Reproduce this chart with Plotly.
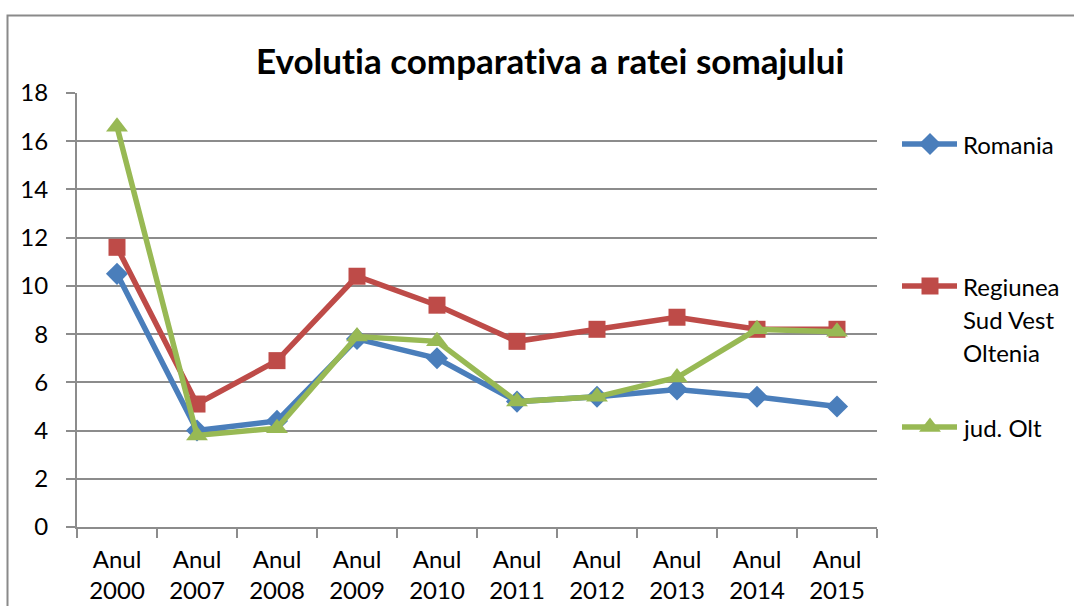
import plotly.graph_objects as go

# Unemployment rate (%) by year
years = ["Anul<br>2000", "Anul<br>2007", "Anul<br>2008", "Anul<br>2009", "Anul<br>2010",
         "Anul<br>2011", "Anul<br>2012", "Anul<br>2013", "Anul<br>2014", "Anul<br>2015"]
romania = [10.5, 4.0, 4.4, 7.8, 7.0, 5.2, 5.4, 5.7, 5.4, 5.0]
regiunea = [11.6, 5.1, 6.9, 10.4, 9.2, 7.7, 8.2, 8.7, 8.2, 8.2]
jud_olt = [16.6, 3.8, 4.1, 7.9, 7.7, 5.2, 5.4, 6.2, 8.2, 8.1]

y_ticks = [0, 2, 4, 6, 8, 10, 12, 14, 16, 18]

W, H = 1074, 606
FONT = "Lato"
FS = 24
GRID = "#8c8c8c"
ZWNJ = "\u200c"  # keeps Lato from joining "ti" into a ligature

series = [
    ("Romania", romania, "#4a7ebb", "diamond", 17),
    ("Regiunea<br>Sud Vest<br>Oltenia", regiunea, "#be4b48", "square", 17),
    ("jud. Olt", jud_olt, "#98b954", "triangle-up", 19),
]

fig = go.Figure()
for name, vals, color, sym, size in series:
    fig.add_trace(go.Scatter(
        x=years, y=vals, mode="lines+markers", name=name,
        line=dict(color=color, width=5.5),
        marker=dict(symbol=sym, size=size, color=color),
        showlegend=False, xaxis="x", yaxis="y",
    ))

# Legend drawn on an overlay axis measured in pixels
legend_rows = [(144, ["Romania"]), (286, ["Regiunea", "Sud Vest", "Oltenia"]), (427, ["jud. Olt"])]
for (name, vals, color, sym, size), (ly, lines) in zip(series, legend_rows):
    fig.add_trace(go.Scatter(
        x=[902, 930, 957], y=[ly, ly, ly], mode="lines",
        line=dict(color=color, width=5.5), showlegend=False,
        xaxis="x2", yaxis="y2", hoverinfo="skip",
    ))
    fig.add_trace(go.Scatter(
        x=[930], y=[ly], mode="markers",
        marker=dict(symbol=sym, size=size, color=color), showlegend=False,
        xaxis="x2", yaxis="y2", hoverinfo="skip",
    ))
    for i, txt in enumerate(lines):
        fig.add_annotation(
            x=961, y=ly + i * 33, xref="x2", yref="y2", text=txt,
            showarrow=False, xanchor="left", yanchor="middle",
            font=dict(family=FONT, size=FS, color="#000000"),
        )

left, right, top, bottom = 77, 877, 93, 527

fig.update_layout(
    width=W, height=H,
    margin=dict(l=0, r=0, t=0, b=0, pad=0, autoexpand=False),
    paper_bgcolor="white", plot_bgcolor="rgba(0,0,0,0)",
    font=dict(family=FONT, size=FS, color="#000000"),
    xaxis=dict(
        domain=[left / W, right / W], type="category",
        range=[-0.5, len(years) - 0.5],
        showgrid=False, tickson="boundaries",
        ticks="outside", ticklen=9, tickwidth=2, tickcolor=GRID,
        showline=True, linecolor=GRID, linewidth=2,
        tickfont=dict(family=FONT, size=FS), anchor="y",
        ticklabelstandoff=10, automargin=False,
    ),
    yaxis=dict(
        domain=[1 - bottom / H, 1 - top / H],
        range=[0, 18], tickvals=y_ticks,
        showgrid=True, gridcolor=GRID, gridwidth=2,
        ticks="outside", ticklen=9, tickwidth=2, tickcolor=GRID,
        showline=True, linecolor=GRID, linewidth=2,
        zeroline=False, tickfont=dict(family=FONT, size=FS), anchor="x",
        ticklabelstandoff=13, automargin=False,
    ),
    xaxis2=dict(domain=[0, 1], range=[0, W], visible=False, anchor="y2",
                fixedrange=True, automargin=False),
    yaxis2=dict(domain=[0, 1], range=[H, 0], visible=False, anchor="x2",
                fixedrange=True, automargin=False),
    showlegend=False,
)

# Chart title
title = f"Evolut{ZWNJ}ia comparat{ZWNJ}iva a ratei somajului"
fig.add_annotation(
    x=550 / W, y=1 - 60 / H, xref="paper", yref="paper",
    text=f"<b>{title}</b>",
    showarrow=False, xanchor="center", yanchor="middle",
    font=dict(family=FONT, size=35, color="#000000"),
)

# Outer chart frame
fig.add_shape(
    type="rect", xref="paper", yref="paper",
    x0=7.5 / W, x1=1.05, y0=-0.05, y1=1 - 15.5 / H,
    line=dict(color="#8a8a8a", width=2), layer="below",
)

fig.write_html("out.html")
